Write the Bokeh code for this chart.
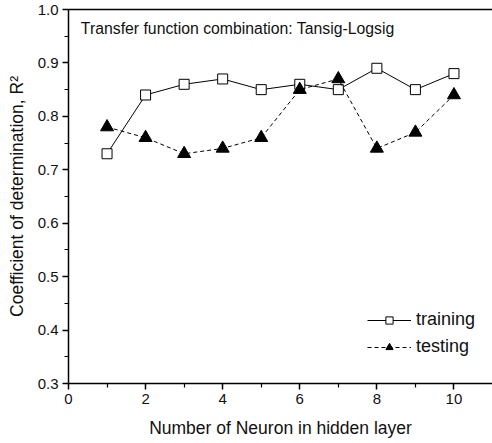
from bokeh.plotting import figure
from bokeh.models import (Range1d, LinearAxis, Label, Legend, LegendItem,
                          FixedTicker, ColumnDataSource, NumeralTickFormatter)
from bokeh.embed import file_html
from bokeh.resources import INLINE

neurons = [1, 2, 3, 4, 5, 6, 7, 8, 9, 10]
training = [0.73, 0.84, 0.86, 0.87, 0.85, 0.86, 0.85, 0.89, 0.85, 0.88]
testing = [0.78, 0.76, 0.73, 0.74, 0.76, 0.85, 0.87, 0.74, 0.77, 0.84]
x_ticks = [0, 2, 4, 6, 8, 10]
y_ticks = [0.3, 0.4, 0.5, 0.6, 0.7, 0.8, 0.9, 1.0]

FONT = "Liberation Sans"

p = figure(width=492, height=443, output_backend="svg", toolbar_location=None,
           x_range=Range1d(0, 11), y_range=Range1d(0.3, 1.0),
           min_border_left=68, min_border_right=0, min_border_top=9,
           min_border_bottom=60, x_axis_location=None, y_axis_location=None)
p.outline_line_color = None
p.grid.visible = False
p.background_fill_color = "white"
p.border_fill_color = "white"

xa = LinearAxis(ticker=FixedTicker(ticks=x_ticks, minor_ticks=[1, 3, 5, 7, 9]),
                axis_label="Number of Neuron in hidden layer")
ya = LinearAxis(ticker=FixedTicker(ticks=y_ticks,
                                   minor_ticks=[0.35, 0.45, 0.55, 0.65, 0.75, 0.85, 0.95]),
                axis_label="Coefficient of determination, R\u00b2",
                formatter=NumeralTickFormatter(format="0.0"))
for ax in (xa, ya):
    ax.axis_line_color = "black"
    ax.axis_line_width = 1.5
    ax.major_tick_line_color = "black"
    ax.minor_tick_line_color = "black"
    ax.major_tick_line_width = 1.5
    ax.minor_tick_line_width = 1.2
    ax.major_tick_out = 6
    ax.major_tick_in = 0
    ax.minor_tick_out = 4
    ax.minor_tick_in = 0
    ax.major_label_text_font = FONT
    ax.major_label_text_font_size = "15px"
    ax.major_label_text_color = "#111111"
    ax.axis_label_text_font = FONT
    ax.axis_label_text_font_size = "17.5px"
    ax.axis_label_text_font_style = "normal"
    ax.axis_label_text_color = "#111111"
xa.major_label_standoff = 4
xa.axis_label_standoff = 11
ya.major_label_standoff = 4
ya.axis_label_standoff = 8
p.add_layout(xa, "below")
p.add_layout(ya, "left")

top = LinearAxis(ticker=FixedTicker(ticks=[]), major_label_text_font_size="0px")
top.axis_line_width = 1.5
top.major_tick_line_color = None
top.minor_tick_line_color = None
p.add_layout(top, "above")

src = ColumnDataSource(dict(x=neurons, tr=training, te=testing))

l1 = p.line("x", "tr", source=src, line_color="black", line_width=1)
s1 = p.scatter("x", "tr", source=src, marker="square", size=10,
               fill_color="white", line_color="black", line_width=1)
l2 = p.line("x", "te", source=src, line_color="black", line_width=1, line_dash="4 3")
s2 = p.scatter("x", "te", source=src, marker="triangle", size=13,
               fill_color="black", line_color="black")

legend = Legend(items=[LegendItem(label="training", renderers=[l1, s1]),
                       LegendItem(label="testing", renderers=[l2, s2])],
                location=(299, 26), orientation="vertical")
legend.background_fill_alpha = 0
legend.border_line_color = None
legend.label_text_font = FONT
legend.label_text_font_size = "18px"
legend.label_text_color = "#111111"
legend.glyph_width = 44
legend.glyph_height = 18
legend.label_standoff = 5
legend.spacing = 6
legend.padding = 0
legend.margin = 0
p.add_layout(legend, "center")

p.add_layout(Label(x=0.32, y=0.9644,
                   text="Transfer function combination: Tansig-Logsig",
                   text_font=FONT, text_font_size="15.8px", text_color="#111111",
                   text_baseline="middle"))

open("out.html", "w").write(file_html(p, INLINE))
